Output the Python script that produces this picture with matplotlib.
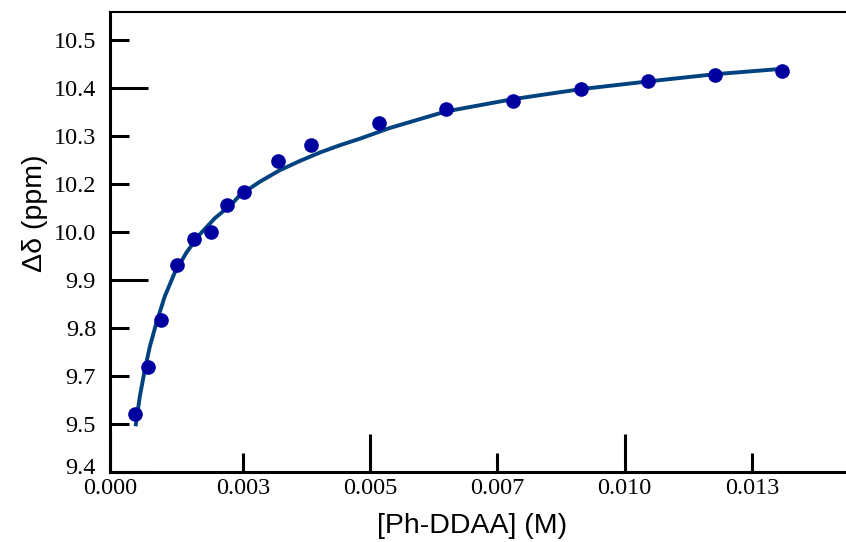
import numpy as np
import matplotlib
matplotlib.use('Agg')
import matplotlib.pyplot as plt
from matplotlib.ticker import FixedLocator, FixedFormatter
from matplotlib.transforms import ScaledTranslation

# measured points: [Ph-DDAA] (M) vs shift (ppm)
conc = [0.000378, 0.000639, 0.000883, 0.001209, 0.001537, 0.001865, 0.002192,
        0.002520, 0.003194, 0.003836, 0.005172, 0.006488, 0.007810, 0.009135,
        0.010451, 0.011773, 0.013095]
shift = [9.525, 9.648, 9.770, 9.914, 9.983, 9.999, 10.071, 10.105, 10.184,
         10.226, 10.285, 10.320, 10.340, 10.373, 10.392, 10.408, 10.420]

# fitted curve
fit_x = [0.000398, 0.000476, 0.000575, 0.000673, 0.000805, 0.000968, 0.001164,
         0.001394, 0.001655, 0.001950, 0.002278, 0.002441, 0.002834, 0.003227,
         0.003620, 0.004013, 0.004406, 0.004799, 0.005388, 0.006488, 0.007805,
         0.009135, 0.010451, 0.011773, 0.013095]
fit_y = [9.499, 9.572, 9.642, 9.702, 9.765, 9.833, 9.895, 9.947, 9.994, 10.036,
         10.072, 10.096, 10.131, 10.161, 10.185, 10.207, 10.226, 10.243, 10.271,
         10.314, 10.346, 10.372, 10.392, 10.411, 10.425]

# axis ticks (labels as printed on the original, first one sits on the spine)
x_left = -0.00011
x_major = [x_left, 0.005, 0.010]
x_major_lab = ['0.000', '0.005', '0.010']
x_minor = [0.0025, 0.0075, 0.0125]
x_minor_lab = ['0.003', '0.007', '0.013']
y_major = [9.375, 9.875, 10.375]
y_major_lab = ['9.4', '9.9', '10.4']
y_minor = [9.5, 9.625, 9.75, 10.0, 10.125, 10.25, 10.5]
y_minor_lab = ['9.5', '9.7', '9.8', '10.0', '10.2', '10.3', '10.5']

fig = plt.figure(figsize=(8.46, 5.42), dpi=100)
ax = fig.add_axes([110/846, 70/542, 736/846, 460/542])

ax.plot(fit_x, fit_y, color='#00427f', lw=2.8, zorder=2)
ax.plot(conc, shift, 'o', color='#0000a0', ms=9.5, mec='#0000a0', zorder=3)

ax.set_xlim(x_left, 0.01435)
ax.set_ylim(9.375, 10.573)

ax.xaxis.set_major_locator(FixedLocator(x_major))
ax.xaxis.set_major_formatter(FixedFormatter(x_major_lab))
ax.xaxis.set_minor_locator(FixedLocator(x_minor))
ax.xaxis.set_minor_formatter(FixedFormatter(x_minor_lab))
ax.yaxis.set_major_locator(FixedLocator(y_major))
ax.yaxis.set_major_formatter(FixedFormatter(y_major_lab))
ax.yaxis.set_minor_locator(FixedLocator(y_minor))
ax.yaxis.set_minor_formatter(FixedFormatter(y_minor_lab))

for which, length in (('major', 27.5), ('minor', 14)):
    ax.tick_params(axis='both', which=which, direction='in', length=length,
                   width=2.2, labelsize=17.5, labelfontfamily='Liberation Serif')
ax.tick_params(axis='x', which='both', pad=4)
ax.tick_params(axis='y', which='both', pad=10)

# lift the bottom "9.4" a little so it clears "0.000"
lab = ax.yaxis.get_major_ticks()[0].label1
lab.set_transform(lab.get_transform() + ScaledTranslation(0, 4/72, fig.dpi_scale_trans))

ax.spines['right'].set_visible(False)
ax.spines['left'].set_linewidth(2.2)
ax.spines['bottom'].set_linewidth(2.2)
ax.spines['top'].set_linewidth(1.5)

ax.set_xlabel('[Ph-DDAA] (M)', fontsize=20.5, family='Liberation Sans', va='center')
ax.set_ylabel('Δδ (ppm)', fontsize=20.5, family='Liberation Sans', va='center')
ax.xaxis.set_label_coords(0.4925, -0.117)
ax.yaxis.set_label_coords(-0.102, 0.563)

plt.savefig('out.png', dpi=100)
plt.close()
